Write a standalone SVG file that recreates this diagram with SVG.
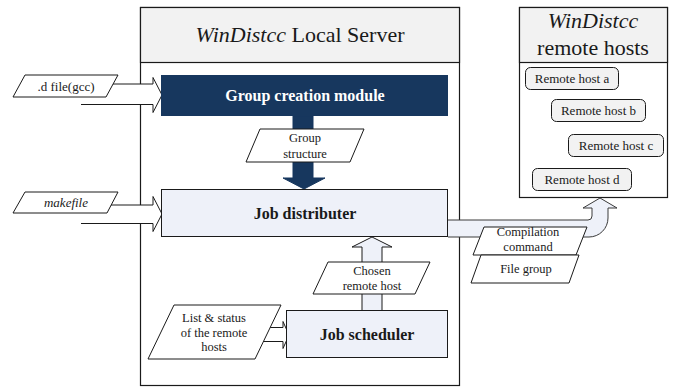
<svg xmlns="http://www.w3.org/2000/svg" width="677" height="387" viewBox="0 0 677 387">
<style>
text{font-family:"Liberation Serif","Times New Roman",serif;fill:#1a1a1a;text-anchor:middle}
.title{font-size:22px}
.bold{font-size:16px;font-weight:bold}
.small{font-size:12.5px}
.host{font-size:13px}
.it{font-style:italic}
.frame{fill:#fff;stroke:#1a1a1a;stroke-width:1.2}
.head{fill:#f2f2f2;stroke:#1a1a1a;stroke-width:1.2}
.para{fill:#fff;stroke:#1a1a1a;stroke-width:1}
.lav{fill:#eef1f9;stroke:#1a1a1a;stroke-width:1}
.hollow{fill:#fff;stroke:#1a1a1a;stroke-width:1}
.hostbox{fill:#f2f2f2;stroke:#1a1a1a;stroke-width:1}
</style>

<g id="local-server">
  <rect class="frame" x="140.5" y="7.5" width="319" height="378"/>
  <rect class="head" x="140.5" y="7.5" width="319" height="55"/>
  <text class="title" x="300" y="42"><tspan class="it">WinDistcc</tspan> Local Server</text>
</g>

<g id="remote-hosts">
  <rect class="frame" x="519.5" y="7.5" width="148" height="190"/>
  <rect class="head" x="519.5" y="7.5" width="148" height="55"/>
  <text class="title it" x="593" y="27.5">WinDistcc</text>
  <text class="title" x="593" y="55">remote hosts</text>
</g>

<g id="remote-host-a">
  <rect class="hostbox" x="525.5" y="67.5" width="93" height="22" rx="5"/>
  <text class="host" x="572" y="82.5">Remote host a</text>
</g>
<g id="remote-host-b">
  <rect class="hostbox" x="551.5" y="99.5" width="94" height="22" rx="5"/>
  <text class="host" x="598.5" y="114.5">Remote host b</text>
</g>
<g id="remote-host-c">
  <rect class="hostbox" x="568.5" y="134.5" width="95" height="22" rx="5"/>
  <text class="host" x="616" y="149.5">Remote host c</text>
</g>
<g id="remote-host-d">
  <rect class="hostbox" x="532.5" y="168.5" width="99" height="22" rx="5"/>
  <text class="host" x="582" y="184">Remote host d</text>
</g>

<g id="connectors">
  <!-- .d file arrow -->
  <path class="hollow" d="M81,104.5 L153,104.5 L153,112.5 L162,95 L153,77.5 L153,84 L100,84"/>
  <!-- makefile arrow -->
  <path class="hollow" d="M81,223.5 L153,223.5 L153,231.5 L162,214 L153,196.5 L153,205 L100,205"/>
  <!-- group creation -> job distributer -->
  <path d="M293,116 L313,116 L313,178 L325,178 L304,189 L283,178 L293,178 Z" fill="#17375e" stroke="#17375e" stroke-width="1"/>
  <!-- scheduler -> distributer -->
  <path class="lav" d="M362,310 L362,247 L352,247 L372,237 L392,247 L382,247 L382,310"/>
  <!-- list arrow -->
  <path class="hollow" d="M255,341.5 L283,341.5 L283,348.5 L289,335 L283,321.5 L283,327.5 L255,327.5"/>
  <!-- distributer -> remote hosts -->
  <path d="M448,220 L588,220 Q592,220 592,216 L592,208 L583,208 L600,198 L617,208 L608,208 L608,218 A19,19 0 0 1 589,237 L448,237" fill="#eef1f9" stroke="#3a3a3a" stroke-width="1"/>
</g>

<g id="group-creation-module">
  <rect x="161.5" y="75.5" width="286" height="40" fill="#17375e" stroke="#17375e"/>
  <text class="bold" x="305" y="101" style="fill:#fff">Group creation module</text>
</g>

<g id="job-distributer">
  <rect class="lav" x="161.5" y="189.5" width="286" height="47"/>
  <text class="bold" x="305" y="218.5">Job distributer</text>
</g>

<g id="job-scheduler">
  <rect class="lav" x="286.5" y="310.5" width="161" height="47"/>
  <text class="bold" x="367" y="339.5">Job scheduler</text>
</g>

<g id="d-file">
  <polygon class="para" points="13,97 25,75 118,75 106,97"/>
  <text class="host" x="66" y="90.5">.d file(gcc)</text>
</g>

<g id="makefile">
  <polygon class="para" points="13,213 25,192 118,192 107,213"/>
  <text class="host it" x="66" y="207">makefile</text>
</g>

<g id="group-structure">
  <polygon class="para" points="246,162 260,129 364,129 350,162"/>
  <text class="small" x="305" y="142">Group</text>
  <text class="small" x="305" y="157.5">structure</text>
</g>

<g id="chosen-remote-host">
  <polygon class="para" points="313,294 328,262 430,262 415,294"/>
  <text class="small" x="372" y="275">Chosen</text>
  <text class="small" x="372" y="289.5">remote host</text>
</g>

<g id="list-status">
  <polygon class="para" points="148,359 174,305 281,305 255,359"/>
  <text class="small" x="214" y="322">List &amp; status</text>
  <text class="small" x="214" y="336.5">of the remote</text>
  <text class="small" x="214" y="351">hosts</text>
</g>

<g id="compilation-command">
  <polygon class="para" points="473,255 484,227 587,227 576,255"/>
  <text class="small" x="528" y="236">Compilation</text>
  <text class="small" x="528" y="250.5">command</text>
</g>

<g id="file-group">
  <polygon class="para" points="471,283 481,255 579,255 569,283"/>
  <text class="small" x="526" y="273">File group</text>
</g>
</svg>
